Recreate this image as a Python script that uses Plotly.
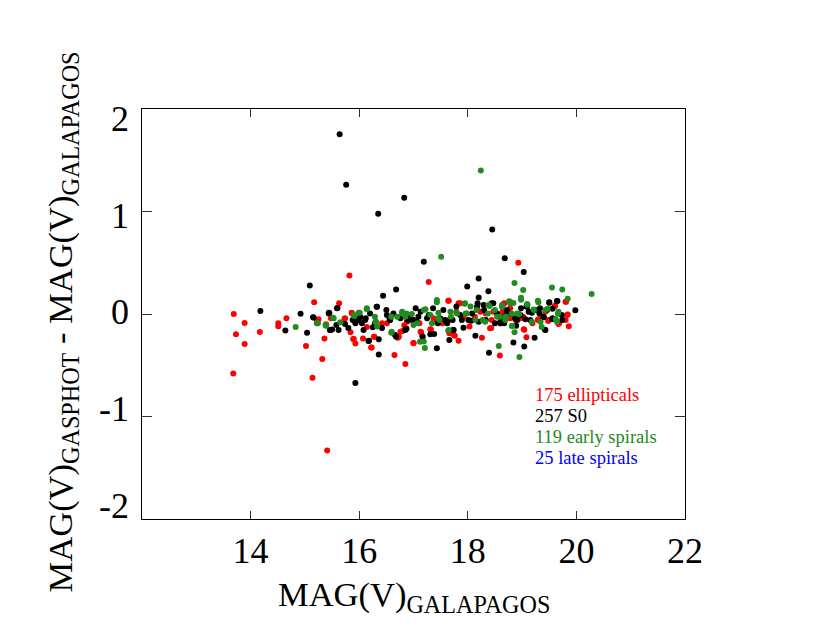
import plotly.graph_objects as go

# ---------------- data ----------------
ell_x = [18.93, 17.28, 15.82, 15.63, 15.17, 13.69, 13.89, 13.73, 13.89, 13.68,
         14.17, 14.51, 14.51, 14.66, 15.02, 15.14, 15.32, 15.36, 15.41, 15.25,
         15.48, 15.73, 15.84, 15.89, 15.93, 16.07, 16.23, 16.28, 15.86, 16.14,
         16.65, 16.85, 16.71, 16.80, 17.00, 17.14, 17.16, 17.32, 17.64, 17.86,
         17.66, 17.76, 17.83, 18.26, 18.43, 18.59, 19.04, 19.08, 19.61, 19.81,
         19.84, 19.86, 19.68, 18.67, 18.03, 16.90,
         16.01, 16.56, 16.83, 17.45, 17.65, 17.92, 18.13, 18.33, 18.64, 18.78,
         19.02, 19.29, 19.43, 19.49, 19.80, 18.88, 18.44, 18.23, 17.79, 17.38,
         16.42, 17.11, 19.19,
         15.87, 15.74, 15.90, 16.22, 16.27, 16.76, 16.73, 17.00, 17.13, 17.31,
         17.65, 17.83, 17.74, 18.41, 18.47, 18.69, 18.78, 17.37, 17.53, 16.88,
         16.51, 19.83, 19.80, 19.60, 19.48, 19.67, 19.30, 19.03, 18.78, 18.97,
         18.66, 15.22, 15.39]
ell_y = [0.500, 0.311, 0.376, 0.104, 0.114, 0.000, -0.088, -0.198, -0.292, -0.581,
         -0.175, -0.091, -0.120, -0.042, -0.311, -0.623, -0.438, -0.240, -1.331, -0.052,
         -0.042, -0.046, -0.179, -0.244, -0.289, -0.240, -0.328, -0.221, 0.013, -0.127,
         -0.399, -0.487, -0.231, -0.166, -0.282, -0.179, -0.214, -0.150, 0.130, 0.104,
         -0.188, -0.211, -0.260, -0.231, -0.137, -0.406, -0.153, -0.227, 0.081, 0.120,
         -0.006, -0.120, -0.091, 0.104, -0.123, -0.068,
         -0.042, -0.042, -0.110, -0.058, -0.058, -0.026, -0.026, 0.006, 0.023, 0.055,
         -0.026, -0.058, 0.023, -0.058, -0.058, -0.058, -0.058, 0.023, 0.023, -0.058,
         -0.091, -0.091, -0.091,
         0.006, -0.042, -0.243, -0.328, -0.221, -0.172, -0.221, -0.285, -0.172, -0.149,
         0.130, 0.104, -0.204, -0.139, 0.023, -0.058, 0.006, -0.042, -0.091, -0.075,
         -0.091, -0.010, 0.120, 0.078, -0.068, -0.097, -0.052, -0.149, -0.042, -0.042,
         0.097, -0.058, -0.100]

s0_x = [15.64, 15.76, 16.83, 16.35, 18.45, 17.19, 18.68, 19.03, 18.20, 17.99,
        18.38, 15.09, 16.68, 16.44, 15.93, 14.18, 14.92, 14.64, 15.04, 15.16,
        15.45, 15.60, 16.36, 16.36, 16.18, 16.68, 17.43, 17.66, 18.14, 18.39,
        18.84, 19.04, 19.23, 19.42, 19.50, 19.65, 19.98, 19.74, 18.20, 16.32,
        15.50, 15.58, 15.74, 15.80, 15.98, 16.05, 16.08, 16.25, 16.42, 16.50,
        16.56, 16.66, 16.87, 16.89, 17.04, 17.09, 17.17, 17.31, 17.38, 17.36,
        17.55, 17.62, 17.73, 17.79, 17.89, 17.92, 18.06, 18.18, 18.30, 18.44,
        18.50, 18.61, 18.74, 18.91, 18.98, 19.08, 19.15, 19.25, 19.32, 19.39,
        19.46, 19.56, 19.73, 18.33, 17.58, 17.45, 16.97, 16.80, 16.63, 15.88,
        16.12, 18.67, 17.72, 18.20, 19.12, 19.56, 16.29, 17.28,
        15.44, 15.59, 15.47, 15.62, 15.93, 16.20, 16.33, 16.17, 16.57, 16.85,
        17.06, 17.13, 17.74, 17.86, 18.17, 18.29, 18.47, 18.60, 18.72, 18.87,
        16.02, 16.11, 16.51, 16.76, 16.91, 17.00, 17.25, 17.49, 17.62, 18.01,
        18.08, 18.54, 18.66, 19.64, 19.50, 19.43, 18.89, 19.55, 19.33, 19.09,
        19.18, 18.97, 19.40, 19.06, 18.72, 18.60, 15.15, 15.44, 15.46]
s0_y = [1.753, 1.262, 1.133, 0.977, 0.824, 0.509, 0.545, 0.409, 0.347, 0.269,
        0.221, 0.279, 0.240, 0.178, -0.672, 0.029, 0.003, -0.162, -0.182, -0.033,
        0.010, 0.058, -0.247, -0.396, -0.260, -0.221, -0.334, -0.253, -0.211, -0.377,
        -0.279, -0.318, -0.231, -0.153, 0.114, 0.127, 0.036, -0.058, 0.162, 0.071,
        -0.150, -0.107, -0.097, -0.136, -0.058, -0.091, -0.156, -0.130, -0.136, 0.039,
        -0.058, -0.205, -0.143, -0.058, 0.055, -0.026, -0.221, -0.198, -0.195, 0.055,
        0.039, -0.091, -0.156, 0.072, -0.058, -0.133, -0.065, 0.104, 0.039, 0.104,
        -0.091, -0.091, 0.006, -0.058, 0.055, 0.072, -0.058, 0.039, 0.006, -0.026,
        0.039, -0.042, -0.010, -0.058, -0.058, -0.091, -0.058, 0.006, 0.006, -0.058,
        -0.042, -0.091, -0.058, -0.075, 0.023, 0.052, -0.091, -0.010,
        0.013, 0.055, -0.156, -0.156, -0.091, 0.006, 0.071, -0.263, -0.058, -0.156,
        -0.075, 0.023, -0.156, -0.010, 0.071, 0.088, 0.104, -0.075, 0.039, -0.042,
        -0.026, -0.058, -0.010, -0.042, -0.010, -0.058, -0.042, -0.042, -0.075, -0.058,
        0.006, 0.006, -0.026, 0.127, 0.110, -0.156, -0.114, -0.052, 0.055, 0.071,
        0.013, -0.010, -0.032, -0.052, 0.023, -0.091, -0.032, 0.006, -0.156]

esp_x = [18.24, 17.51, 18.86, 19.55, 19.74, 20.28, 19.02, 19.84, 17.43, 18.76,
         18.98, 14.83, 15.24, 15.39, 15.52, 15.65, 15.91, 15.99, 16.14, 16.29,
         16.31, 16.59, 16.59, 16.79, 17.19, 17.21, 17.64, 18.57, 18.95, 18.82,
         18.86, 19.36, 19.30, 19.47, 19.66, 19.62, 19.34, 17.94, 18.16, 18.40,
         18.63, 18.59, 18.84, 19.10, 16.97, 17.07, 17.22, 17.34, 17.46, 17.69,
         17.79, 17.96, 18.27, 18.37, 18.50, 18.71, 19.22, 16.70, 16.87, 17.48,
         18.05, 18.95,
         15.38, 15.53, 15.90, 16.01, 16.14, 16.30, 16.33, 16.60, 16.79, 16.85,
         17.00, 17.19, 17.31, 17.43, 17.46, 17.68, 17.65, 17.12, 17.80, 17.95,
         17.98, 18.14, 18.32, 18.38, 18.54, 18.63, 18.69, 18.78, 18.81, 19.29,
         18.98, 18.78, 19.09, 19.67, 19.43, 19.21, 19.64, 19.18, 18.81, 18.69,
         18.63, 18.91, 15.22, 15.39]
esp_y = [1.399, 0.558, 0.302, 0.259, 0.240, 0.195, 0.234, 0.150, 0.114, 0.124,
         0.140, -0.127, -0.091, -0.110, -0.036, -0.081, -0.019, 0.013, 0.046, -0.026,
         -0.075, -0.182, -0.026, 0.023, -0.269, -0.331, -0.160, -0.311, -0.419, -0.117,
         -0.179, -0.127, 0.114, 0.052, 0.003, -0.052, -0.078, 0.101, 0.039, 0.078,
         0.078, -0.026, 0.107, 0.091, 0.000, -0.091, 0.046, -0.091, 0.013, -0.026,
         0.013, 0.006, -0.058, 0.006, 0.039, -0.026, 0.039, -0.026, 0.006, -0.058,
         0.072, 0.000,
         -0.107, -0.042, -0.010, 0.013, 0.055, -0.075, -0.123, -0.172, 0.006, -0.026,
         -0.107, 0.039, -0.010, 0.136, -0.042, 0.023, -0.156, -0.270, 0.006, 0.104,
         0.006, -0.058, -0.075, 0.088, -0.026, 0.071, -0.026, 0.104, 0.006, 0.130,
         0.159, 0.120, 0.097, 0.023, 0.039, 0.045, -0.075, -0.075, -0.117, -0.058,
         0.088, 0.006, -0.091, -0.114]

x_ticks = [14, 16, 18, 20, 22]
y_ticks = [2, 1, 0, -1, -2]

legend_lines = ["175 ellipticals", "257 S0", "119 early spirals", "25 late spirals"]
legend_colors = ["#ff0000", "#000000", "#228b22", "#0000ff"]

FONT = "Liberation Serif, Times New Roman, serif"

fig = go.Figure()
for xs, ys, col in [(ell_x, ell_y, "#ff0000"), (s0_x, s0_y, "#000000"),
                    (esp_x, esp_y, "#228b22")]:
    fig.add_trace(go.Scatter(x=xs, y=ys, mode="markers",
                             marker=dict(color=col, size=6, line=dict(width=0)),
                             showlegend=False, hoverinfo="skip"))

ann = []
# y tick labels (spread slightly inward as in the reference)
for v in y_ticks:
    ann.append(dict(x=-0.02, xref="paper", y=v * 0.945 + 0.015, yref="y",
                    text=str(v), showarrow=False, xanchor="right", yanchor="middle",
                    font=dict(family=FONT, size=36, color="black")))
# legend-like text
for i, (t, c) in enumerate(zip(legend_lines, legend_colors)):
    ann.append(dict(x=19.2, y=-0.789 - i * 0.205, xref="x", yref="y", text=t,
                    showarrow=False, xanchor="left", yanchor="middle",
                    font=dict(family=FONT, size=18.5, color=c)))
# axis titles
ann.append(dict(x=0.5, y=-0.19, xref="paper", yref="paper",
                text="MAG(V)<sub>GALAPAGOS</sub>", showarrow=False,
                xanchor="center", yanchor="middle",
                font=dict(family=FONT, size=34.5, color="black")))
ann.append(dict(x=-0.147, y=0.48, xref="paper", yref="paper", textangle=-90,
                text="MAG(V)<sub>GASPHOT</sub> - MAG(V)<sub>GALAPAGOS</sub>",
                showarrow=False, xanchor="center", yanchor="middle",
                font=dict(family=FONT, size=34.5, color="black")))

fig.update_layout(
    width=830, height=642,
    margin=dict(l=134, r=153, t=101, b=131),
    paper_bgcolor="white", plot_bgcolor="white",
    annotations=ann,
    xaxis=dict(range=[12, 22], tickvals=x_ticks, ticktext=[str(v) for v in x_ticks],
               ticks="inside", ticklen=8, tickcolor="#333", showgrid=False,
               zeroline=False, showline=True, linecolor="black", linewidth=1.2,
               mirror="ticks", ticklabelstandoff=0,
               tickfont=dict(family=FONT, size=36, color="black")),
    yaxis=dict(range=[-2, 2], tickvals=y_ticks, ticks="inside", ticklen=10,
               tickcolor="#333", showgrid=False, zeroline=False, showline=True,
               linecolor="black", linewidth=1.2, mirror="ticks",
               showticklabels=False),
)

fig.write_html("out.html")
